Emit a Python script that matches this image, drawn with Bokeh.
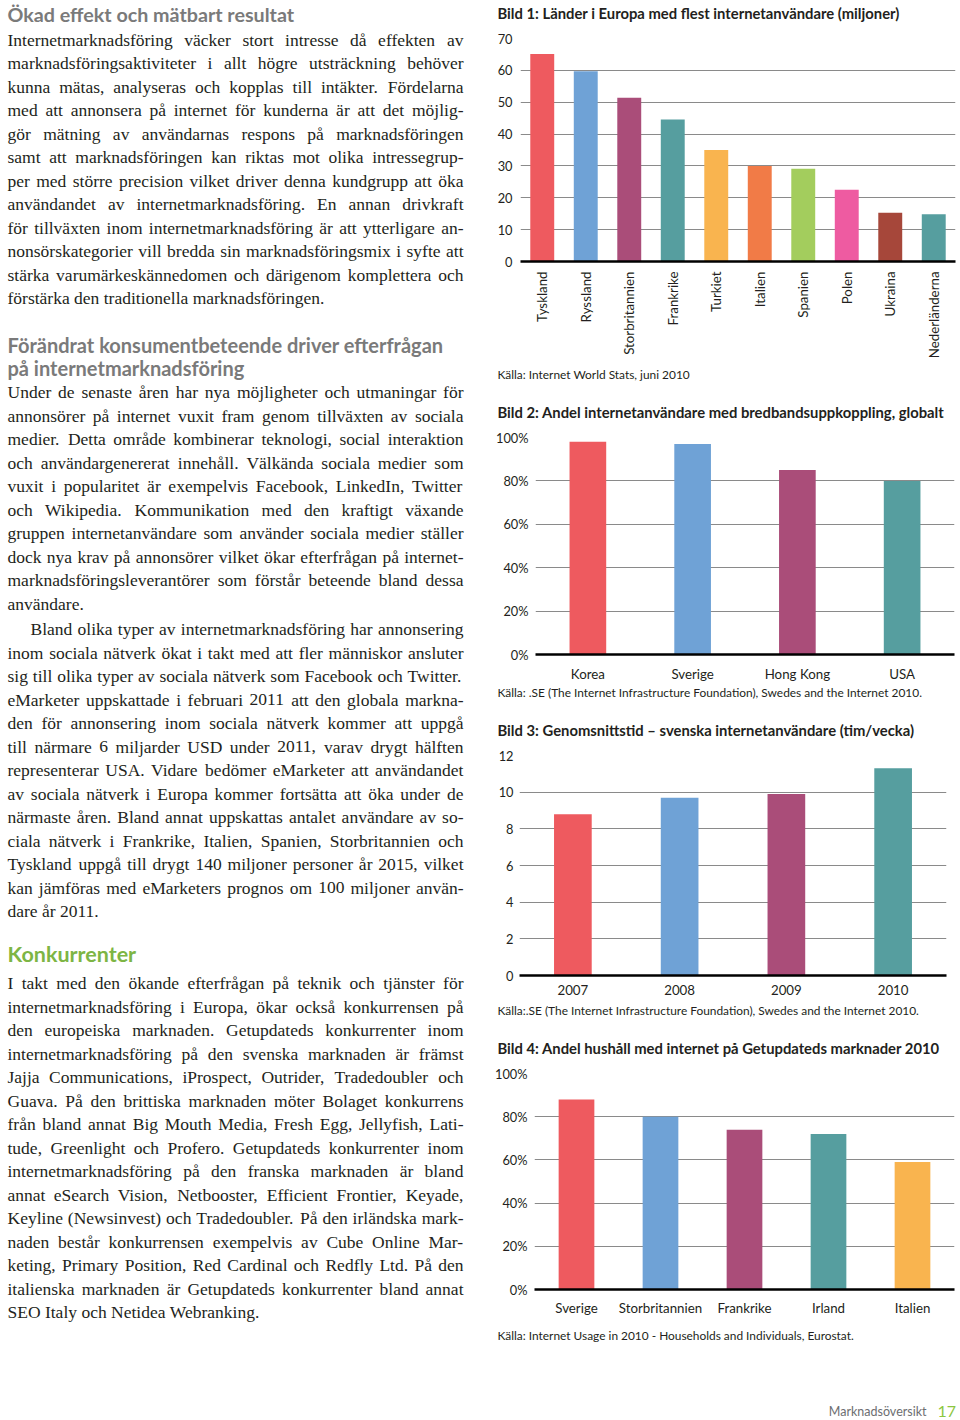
import math
from bokeh.plotting import figure
from bokeh.layouts import row, column
from bokeh.models import ColumnDataSource, FactorRange, Range1d, FixedTicker, PrintfTickFormatter
from bokeh.core.properties import value
from bokeh.embed import file_html
from bokeh.resources import INLINE

# ---------------- data ----------------
c1_countries = ["Tyskland", "Ryssland", "Storbritannien", "Frankrike", "Turkiet",
                "Italien", "Spanien", "Polen", "Ukraina", "Nederländerna"]
c1_users = [65.1, 59.7, 51.4, 44.6, 35.0, 30.0, 29.1, 22.5, 15.3, 14.8]
c1_ticks = [0, 10, 20, 30, 40, 50, 60, 70]

c2_countries = ["Korea", "Sverige", "Hong Kong", "USA"]
c2_share = [98, 97, 85, 80]
pct_ticks = [0, 20, 40, 60, 80, 100]

c3_years = ["2007", "2008", "2009", "2010"]
c3_hours = [8.8, 9.7, 9.9, 11.3]
c3_ticks = [0, 2, 4, 6, 8, 10, 12]

c4_markets = ["Sverige", "Storbritannien", "Frankrike", "Irland", "Italien"]
c4_share = [88, 80, 74, 72, 59]

titles = [
    "Bild 1: Länder i Europa med flest internetanvändare (miljoner)",
    "Bild 2: Andel internetanvändare med bredbandsuppkoppling, globalt",
    "Bild 3: Genomsnittstid – svenska internetanvändare (tim/vecka)",
    "Bild 4: Andel hushåll med internet på Getupdateds marknader 2010",
]
sources = [
    "Källa: Internet World Stats, juni 2010",
    "Källa: .SE (The Internet Infrastructure Foundation), Swedes and the Internet 2010.",
    "Källa:.SE (The Internet Infrastructure Foundation), Swedes and the Internet 2010.",
    "Källa: Internet Usage in 2010 - Households and Individuals, Eurostat.",
]

heading1 = "Ökad effekt och mätbart resultat"
heading2 = ["Förändrat konsumentbeteende driver efterfrågan", "på internetmarknadsföring"]
heading3 = "Konkurrenter"

para1 = [
    "Internetmarknadsföring väcker stort intresse då effekten av",
    "marknadsföringsaktiviteter i allt högre utsträckning behöver",
    "kunna mätas, analyseras och kopplas till intäkter. Fördelarna",
    "med att annonsera på internet för kunderna är att det möjlig-",
    "gör mätning av användarnas respons på marknadsföringen",
    "samt att marknadsföringen kan riktas mot olika intressegrup-",
    "per med större precision vilket driver denna kundgrupp att öka",
    "användandet av internetmarknadsföring. En annan drivkraft",
    "för tillväxten inom internetmarknadsföring är att ytterligare an-",
    "nonsörskategorier vill bredda sin marknadsföringsmix i syfte att",
    "stärka varumärkeskännedomen och därigenom komplettera och",
    "förstärka den traditionella marknadsföringen.",
]
para2 = [
    "Under de senaste åren har nya möjligheter och utmaningar för",
    "annonsörer på internet vuxit fram genom tillväxten av sociala",
    "medier. Detta område kombinerar teknologi, social interaktion",
    "och användargenererat innehåll. Välkända sociala medier som",
    "vuxit i popularitet är exempelvis Facebook, LinkedIn, Twitter",
    "och Wikipedia. Kommunikation med den kraftigt växande",
    "gruppen internetanvändare som använder sociala medier ställer",
    "dock nya krav på annonsörer vilket ökar efterfrågan på internet-",
    "marknadsföringsleverantörer som förstår beteende bland dessa",
    "användare.",
]
para3 = [
    "Bland olika typer av internetmarknadsföring har annonsering",
    "inom sociala nätverk ökat i takt med att fler människor ansluter",
    "sig till olika typer av sociala nätverk som Facebook och Twitter.",
    "eMarketer uppskattade i februari 2011 att den globala markna-",
    "den för annonsering inom sociala nätverk kommer att uppgå",
    "till närmare 6 miljarder USD under 2011, varav drygt hälften",
    "representerar USA. Vidare bedömer eMarketer att användandet",
    "av sociala nätverk i Europa kommer fortsätta att öka under de",
    "närmaste åren. Bland annat uppskattas antalet användare av so-",
    "ciala nätverk i Frankrike, Italien, Spanien, Storbritannien och",
    "Tyskland uppgå till drygt 140 miljoner personer år 2015, vilket",
    "kan jämföras med eMarketers prognos om 100 miljoner använ-",
    "dare år 2011.",
]
para4 = [
    "I takt med den ökande efterfrågan på teknik och tjänster för",
    "internetmarknadsföring i Europa, ökar också konkurrensen på",
    "den europeiska marknaden. Getupdateds konkurrenter inom",
    "internetmarknadsföring på den svenska marknaden är främst",
    "Jajja Communications, iProspect, Outrider, Tradedoubler och",
    "Guava. På den brittiska marknaden möter Bolaget konkurrens",
    "från bland annat Big Mouth Media, Fresh Egg, Jellyfish, Lati-",
    "tude, Greenlight och Profero. Getupdateds konkurrenter inom",
    "internetmarknadsföring på den franska marknaden är bland",
    "annat eSearch Vision, Netbooster, Efficient Frontier, Keyade,",
    "Keyline (Newsinvest) och Tradedoubler. På den irländska mark-",
    "naden består konkurrensen exempelvis av Cube Online Mar-",
    "keting, Primary Position, Red Cardinal och Redfly Ltd. På den",
    "italienska marknaden är Getupdateds konkurrenter bland annat",
    "SEO Italy och Netidea Webranking.",
]
footer_label = "Marknadsöversikt"
footer_page = "17"

# ---------------- styles ----------------
RED, BLUE, PURPLE, TEAL = "#EE5A5F", "#6FA2D6", "#AA4D79", "#569E9F"
YELLOW, ORANGE, GREEN, PINK, BROWN = "#F9B44F", "#F17B47", "#A3CD5D", "#EE5BA1", "#A6473A"
TXT = "#231f20"
SANS = "Lato"
SERIF = "Liberation Serif"

# Times/Liberation Serif advance widths (per 1000 em)
TW = dict(zip("abcdefghijklmnopqrstuvwxyz",
              [444, 500, 444, 500, 444, 333, 500, 500, 278, 278, 500, 278, 778,
               500, 500, 500, 500, 333, 389, 278, 500, 500, 722, 500, 500, 444]))
TW.update(dict(zip("ABCDEFGHIJKLMNOPQRSTUVWXYZ",
                   [722, 667, 667, 722, 611, 556, 722, 722, 333, 389, 722, 611, 889,
                    722, 722, 556, 722, 667, 556, 611, 722, 722, 944, 722, 722, 611])))
TW.update({"å": 444, "ä": 444, "é": 444, "ö": 500, "Ö": 722, "Ä": 722, "Å": 722,
           " ": 250, ".": 250, ",": 250, "-": 333, "(": 333, ")": 333, ":": 278})
for d in "0123456789":
    TW[d] = 500


def tw(s):
    return sum(TW.get(ch, 500) for ch in s) / 1000.0


# ---------------- left text column ----------------
FS = 17.5
LH = 23.5
X0, X1 = 7, 463
wx, wy, wt = [], [], []


def set_paragraph(lines, y0, indent=0):
    for i, line in enumerate(lines):
        words = line.split(" ")
        y = y0 + i * LH
        x0 = X0 + (indent if i == 0 else 0)
        widths = [tw(w) * FS for w in words]
        if i == len(lines) - 1 or len(words) == 1:
            gap = 0.25 * FS
        else:
            gap = max(2.0, (X1 - x0 - sum(widths)) / (len(words) - 1))
        x = x0
        for w, wd in zip(words, widths):
            wx.append(x)
            wy.append(y)
            wt.append(w)
            x += wd + gap


set_paragraph(para1, 39.0)
set_paragraph(para2, 391.5)
set_paragraph(para3, 628.5, indent=23)
set_paragraph(para4, 982.5)

left = figure(width=490, height=1420, x_range=Range1d(0, 490), y_range=Range1d(1420, 0),
              output_backend="svg", toolbar_location=None, min_border=0,
              x_axis_location=None, y_axis_location=None, frame_align=False)
left.grid.visible = False
left.outline_line_color = None
left.text(x="x", y="y", text="t", source=ColumnDataSource(dict(x=wx, y=wy, t=wt)),
          text_font=value(SERIF), text_font_size=value(f"{FS}px"), text_color=TXT,
          text_align="left", text_baseline="middle")
left.text(x=[7], y=[14], text=[heading1],
          text_font=value(SANS), text_font_style="bold", text_font_size=value("19.7px"),
          text_color="#7a7a7a", text_align="left", text_baseline="middle")
left.text(x=[7, 7], y=[344, 367.5], text=heading2,
          text_font=value(SANS), text_font_style="bold", text_font_size=value("20px"),
          text_color="#7a7a7a", text_align="left", text_baseline="middle")
left.text(x=[7], y=[953], text=[heading3],
          text_font=value(SANS), text_font_style="bold", text_font_size=value("21.5px"),
          text_color="#7DB544", text_align="left", text_baseline="middle")


# ---------------- right column ----------------
def text_fig(height):
    p = figure(width=470, height=height, x_range=Range1d(0, 470), y_range=Range1d(height, 0),
               output_backend="svg", toolbar_location=None, min_border=0,
               x_axis_location=None, y_axis_location=None, frame_align=False)
    p.grid.visible = False
    p.outline_line_color = None
    return p


def add_title(p, y, txt):
    p.text(x=[7], y=[y], text=[txt], text_font=value(SANS), text_font_style="bold",
           text_font_size=value("14.8px"), text_color=TXT, text_align="left", text_baseline="middle")


def add_source(p, y, txt):
    p.text(x=[7], y=[y], text=[txt], text_font=value(SANS),
           text_font_size=value("11.9px"), text_color=TXT, text_align="left", text_baseline="middle")


def bar_chart(cats, vals, colors, ymax, ticks, fmt, height, bl, br, bt, bb, bar_w,
              xs, ys, orient=None):
    p = figure(width=470, height=height, x_range=FactorRange(factors=cats, range_padding=0),
               y_range=Range1d(0, ymax), output_backend="svg", toolbar_location=None,
               min_border_left=bl, min_border_right=br, min_border_top=bt, min_border_bottom=bb,
               frame_align=False)
    p.outline_line_color = None
    src = ColumnDataSource(dict(x=cats, top=vals, c=colors))
    p.vbar(x="x", top="top", width=bar_w, fill_color="c", line_color=None, source=src)
    tk = FixedTicker(ticks=ticks)
    p.yaxis.ticker = tk
    p.ygrid.ticker = tk
    p.yaxis.formatter = PrintfTickFormatter(format=fmt)
    p.xgrid.visible = False
    p.ygrid.grid_line_color = "#8a8a8a"
    p.ygrid.grid_line_width = 1
    p.yaxis.axis_line_color = None
    p.yaxis.major_tick_line_color = None
    p.yaxis.minor_tick_line_color = None
    p.yaxis.major_tick_out = 0
    p.yaxis.major_tick_in = 0
    p.yaxis.major_label_standoff = ys
    p.xaxis.axis_line_color = "black"
    p.xaxis.axis_line_width = 2.5
    p.xaxis.major_tick_line_color = None
    p.xaxis.major_tick_out = 0
    p.xaxis.major_tick_in = 0
    p.xaxis.major_label_standoff = xs
    for ax in (p.xaxis, p.yaxis):
        ax.major_label_text_font = SANS
        ax.major_label_text_color = TXT
    p.yaxis.major_label_text_font_size = "12.8px"
    p.xaxis.major_label_text_font_size = "13.3px"
    if orient is not None:
        p.xaxis.major_label_orientation = orient
    return p


tf1 = text_fig(28)
add_title(tf1, 12, titles[0])

c1 = bar_chart(c1_countries, c1_users,
               [RED, BLUE, PURPLE, TEAL, YELLOW, ORANGE, GREEN, PINK, BROWN, TEAL],
               70, c1_ticks, "%d", 338, 30, 5, 10, 105, 0.55, 10, 8, orient=math.pi / 2)

tf2 = text_fig(58)
add_source(tf2, 8, sources[0])
add_title(tf2, 45, titles[1])

c2 = bar_chart(c2_countries, c2_share, [RED, BLUE, PURPLE, TEAL],
               100, pct_ticks, "%d%%", 260, 45, 6, 13, 29, 0.35, 11, 7)

tf3 = text_fig(60)
add_source(tf3, 8, sources[1])
add_title(tf3, 45, titles[2])

c3 = bar_chart(c3_years, c3_hours, [RED, BLUE, PURPLE, TEAL],
               12, c3_ticks, "%d", 256, 29, 14, 11, 25, 0.353, 9, 6)

tf4 = text_fig(62)
add_source(tf4, 10, sources[2])
add_title(tf4, 47, titles[3])

c4 = bar_chart(c4_markets, c4_share, [RED, BLUE, PURPLE, TEAL, YELLOW],
               100, pct_ticks, "%d%%", 258, 44, 6, 11, 31, 0.425, 10, 7)

tf5 = text_fig(100)
add_source(tf5, 15, sources[3])
tf5.text(x=[436], y=[91], text=[footer_label], text_font=value(SANS),
         text_font_size=value("12.5px"), text_color="#6d6e71", text_align="right", text_baseline="middle")
tf5.text(x=[447], y=[91], text=[footer_page], text_font=value(SANS),
         text_font_size=value("16px"), text_color="#8CC63F", text_align="left", text_baseline="middle")

layout = row(left, column(tf1, c1, tf2, c2, tf3, c3, tf4, c4, tf5, spacing=0), spacing=0)

html = file_html(layout, INLINE)
html = html.replace("</head>", "<style>html,body{margin:0;padding:0;}</style></head>", 1)
with open("out.html", "w", encoding="utf-8") as f:
    f.write(html)
